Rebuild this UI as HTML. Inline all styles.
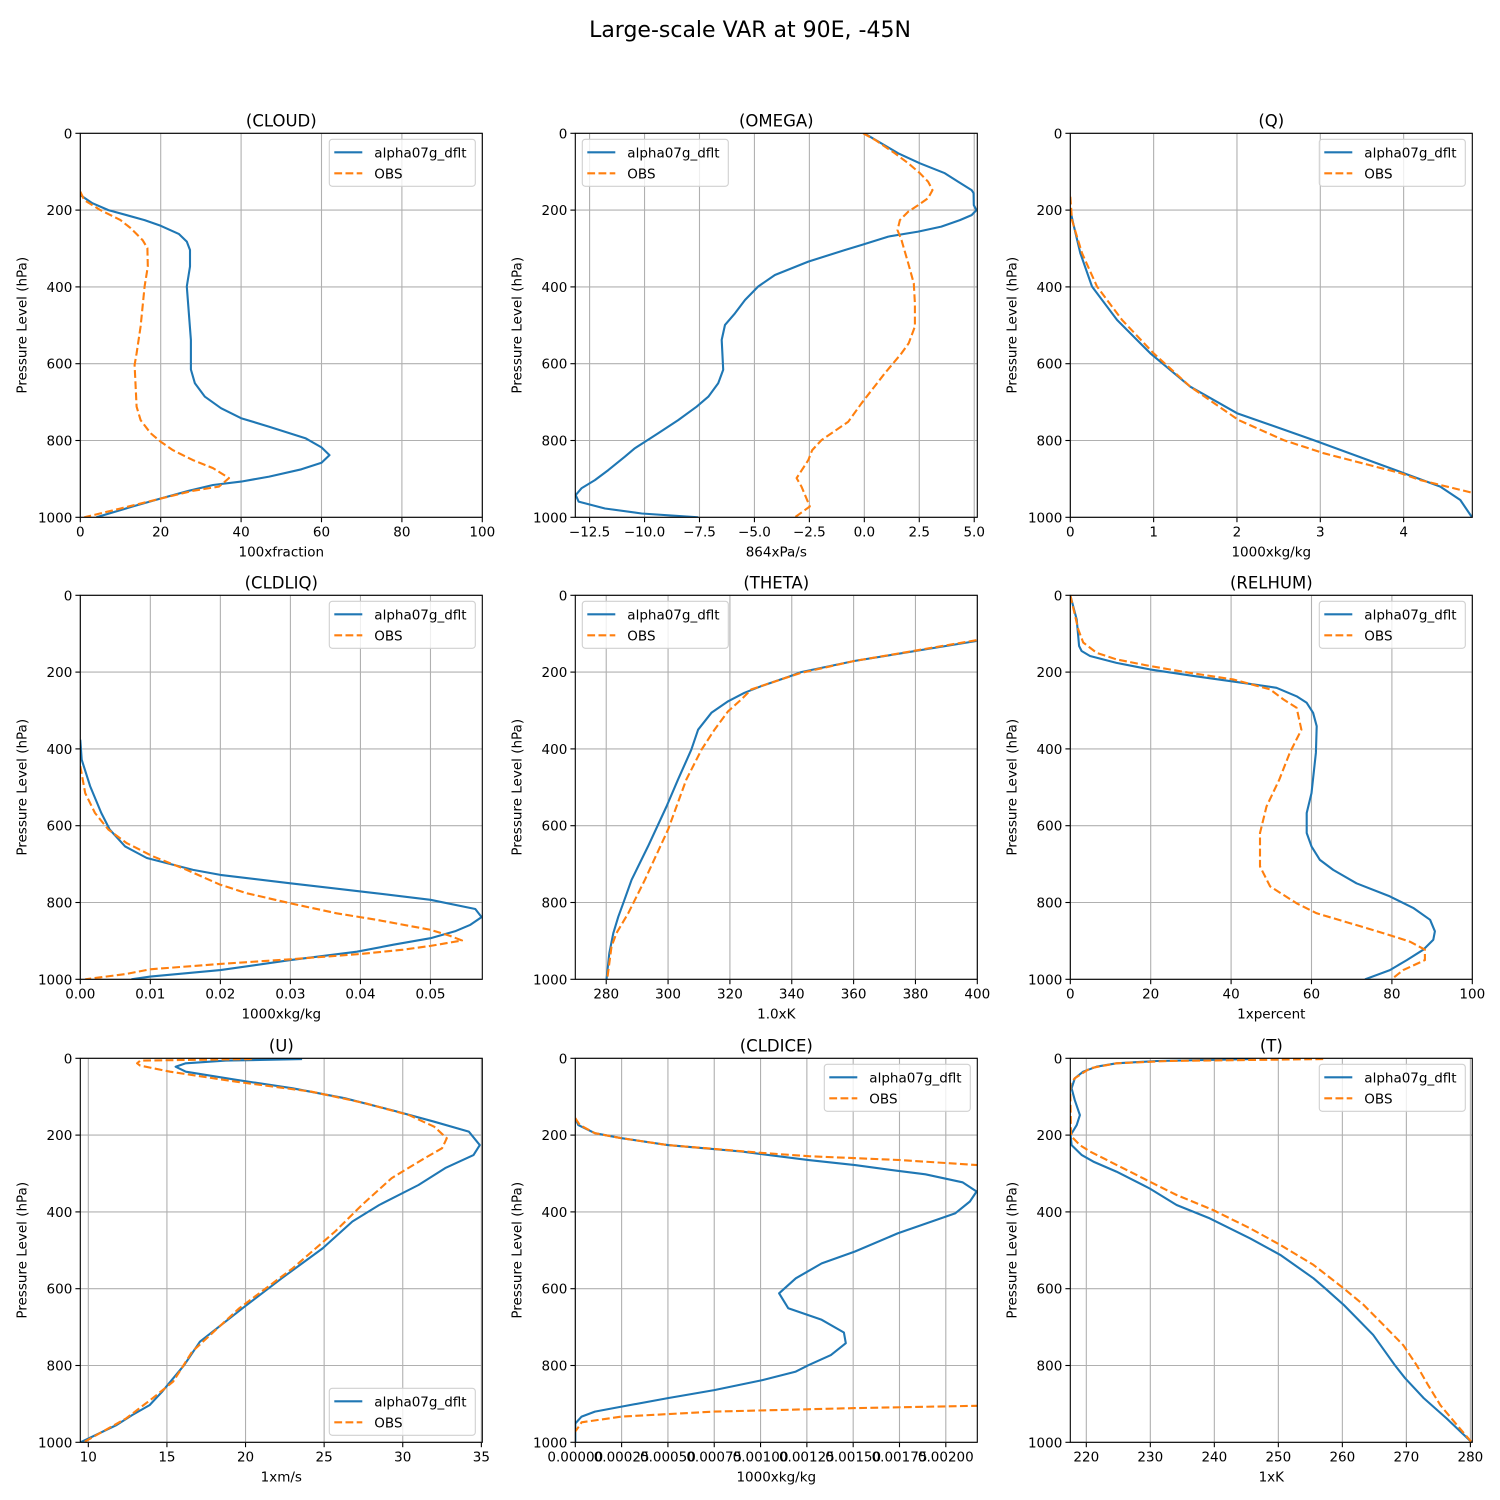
<!DOCTYPE html>
<html><head><meta charset="utf-8"><style>
body{margin:0;background:#fff;}
svg{display:block;font-family:"DejaVu Sans","Liberation Sans",sans-serif;}
</style></head><body>
<svg id="fig" width="1500" height="1500" viewBox="0 0 1500 1500" xmlns="http://www.w3.org/2000/svg">
<rect width="1500" height="1500" fill="#fff"/>
<text x="750" y="37" font-size="22" text-anchor="middle">Large-scale VAR at 90E, -45N</text>
</svg>
<script>
// ---------- DATA ----------
const pCloudM=[152,163,182,200,226,241,262,282,304,347,399,538,615,651,686,716,742,764,794,818,838,858,875,894,907,916,931,951,972,1000];
const vCloudM=[0,0.3,3,7,16,20,24.5,26.5,27.3,27.3,26.5,27.5,27.5,28.5,31,35,40,47,56,60,62,60,55,47,40,33,27,20,13,4];
const pCloudO=[152,174,200,226,247,278,299,347,399,503,573,603,712,747,781,803,825,851,872,885,898,920,931,946,964,977,1000];
const vCloudO=[0,1,5,10,12.5,15.5,16.7,16.8,16,15,14,13.5,14,15,17.5,20,23,28,33,35,37,34.5,28,22,15,10,1];

const pOmegaM=[0,52,78,104,126,148,156,187,200,213,226,243,256,269,291,304,334,369,399,434,469,499,538,616,651,686,712,747,781,803,820,842,877,903,924,942,959,977,990,1000];
const vOmegaM=[0,1.54,2.53,3.66,4.27,4.88,4.97,4.98,5.1,4.88,4.35,3.5,2.45,1.09,-0.13,-0.88,-2.55,-4.07,-4.83,-5.43,-5.89,-6.34,-6.49,-6.42,-6.65,-7.1,-7.63,-8.47,-9.38,-9.98,-10.44,-10.89,-11.65,-12.26,-12.86,-13.13,-13.0,-11.8,-10.13,-7.56];
const pOmegaO=[0,17,52,78,104,126,148,169,187,204,226,252,278,339,391,443,503,547,573,625,703,751,799,825,851,898,920,972,1000];
const vOmegaO=[-0.05,0.48,1.39,2.0,2.53,2.9,3.1,2.9,2.45,2.0,1.62,1.51,1.69,2.0,2.25,2.3,2.3,2.02,1.69,0.93,-0.13,-0.73,-1.95,-2.37,-2.55,-3.08,-2.86,-2.48,-3.16];

const pQM=[200,230,312,399,486,573,660,729,799,885,920,955,1000];
const vQM=[0,0.03,0.12,0.26,0.56,0.96,1.44,2.0,2.92,4.0,4.44,4.68,4.82];
const pQO=[165,226,312,399,486,573,660,747,799,833,885,903,936];
const vQO=[0,0.02,0.14,0.32,0.62,1.0,1.44,2.02,2.56,3.04,3.96,4.2,4.82];

const pLiqM=[376,428,497,567,610,654,684,715,728,750,771,793,817,838,858,875,893,910,928,950,976,993,1000];
const vLiqM=[0,0.0002,0.0014,0.003,0.0042,0.0064,0.0095,0.0161,0.02,0.03,0.04,0.05,0.0564,0.0573,0.0557,0.0535,0.05,0.0447,0.0395,0.03,0.02,0.01,0.0073];
const pLiqO=[445,515,567,610,645,680,715,754,776,802,828,845,871,887,899,913,923,934,948,960,974,986,1000];
const vLiqO=[0,0.0007,0.0021,0.004,0.0066,0.0104,0.0152,0.02,0.0238,0.03,0.0366,0.0423,0.05,0.0528,0.0545,0.05,0.0461,0.04,0.03,0.02,0.01,0.0066,0.0007];

const pThM=[119,171,200,210,237,254,276,306,350,402,480,550,654,741,802,837,880,932,1000];
const vThM=[399.7,360.2,343,339.8,330,324.7,319.4,314,309.7,307.5,303.2,299.5,293.5,288.2,285.5,283.9,282.3,281,280.1];
const pThO=[117,171,202,219,245,271,302,350,402,480,610,741,828,880,915,1000];
const vThO=[399.7,360.2,343,336.6,326.9,323.7,319.4,315,310.8,305.9,300,292.5,287.1,283.3,281.7,280.3];

const pRhM=[0,63,132,145,158,176,193,210,228,241,263,280,306,341,410,515,567,619,654,689,715,750,784,814,845,875,897,923,950,976,1000];
const vRhM=[0,1.6,2.2,2.8,4.9,11.5,19.8,30.6,43,51.3,56.3,58.8,60.4,61.3,61.1,60,58.8,58.8,60,62.1,65.4,71.2,79.5,85.3,89.5,90.7,90.3,87.8,83.7,79.5,73.3];
const pRhO=[0,89,123,150,167,184,202,219,245,271,293,350,410,480,550,619,706,758,802,828,854,880,902,923,950,976,1000];
const vRhO=[0,2,3.2,6.6,11.5,19.8,29.8,40.5,49.7,53,56.3,57.5,54.6,52,48.8,47.2,47.2,49.7,56.3,61.3,69.6,77.9,84.5,88.2,88.2,82.8,79.9];

const pUM=[2,6,13,22,35,56,78,104,135,165,191,226,252,286,330,382,425,495,573,651,738,799,868,903,929,955,1000];
const vUM=[23.6,18.75,16.2,15.55,16.2,19.4,23,26.3,29.3,32,34.2,34.9,34.5,32.7,31,28.5,26.8,24.9,22.3,19.8,17.1,16.1,14.7,13.9,12.8,11.8,9.5];
const pUO=[2,6,13,19,35,61,87,117,148,178,208,234,260,312,382,451,547,651,764,842,885,938,1000];
const vUO=[20.4,13.3,13.1,13.3,15.2,19.4,24.2,27.6,30.4,32,32.8,32.5,31.4,29.3,27.4,25.7,23,19.6,16.6,15.4,14.1,12.4,9.7];

const pIceM=[156,174,195,208,226,243,265,278,293,302,323,347,373,404,456,503,534,573,612,651,681,714,742,773,799,816,838,864,885,907,920,933,951,1000];
const vIceM=[0,0.000016,0.000106,0.00025,0.0005,0.0009,0.00126,0.00151,0.00174,0.00189,0.00209,0.002166,0.00213,0.00205,0.00174,0.00151,0.00133,0.00119,0.0011,0.00115,0.00133,0.00145,0.00146,0.00138,0.00126,0.00119,0.00101,0.00075,0.0005,0.00025,0.000106,0.000034,0,0];
const pIceO=[156,174,195,208,226,236,246,255,265,278,290,895,905,911,920,933,948,955,972];
const vIceO=[0,0.000025,0.000106,0.00025,0.0005,0.00075,0.001,0.00126,0.00176,0.00217,0.0028,0.0028,0.00217,0.00151,0.00075,0.00025,0.000034,0.000025,0];

const pTM=[2,7,13,22,35,52,78,109,148,174,200,226,252,269,295,339,382,417,469,512,573,599,642,686,720,764,799,833,885,938,1000];
const vTM=[245.6,231,224.7,221.6,219.5,218.2,217.7,218.2,219,218.5,217.55,217.7,219.3,221.1,224.7,229.9,234.1,239.3,245.6,250.3,255.5,257.3,260.2,262.8,264.8,266.7,268.2,269.8,272.7,276.3,280.2];
const pTO=[2,7,13,26,52,65,87,139,191,204,226,243,269,321,356,395,443,486,538,599,642,694,747,799,851,903,955,1000];
const vTO=[257,232.6,224.7,220.6,218.2,217.55,217.5,217.55,217.6,217.7,219,220.6,223.7,229.9,234.1,239.8,245.6,250.3,255.5,260.2,263.3,266.4,269.5,271.6,273.4,275.3,277.9,280.2];

const ticksCloud=[0,20,40,60,80,100], labCloud=["0","20","40","60","80","100"];
const ticksOmega=[-12.5,-10,-7.5,-5,-2.5,0,2.5,5], labOmega=["−12.5","−10.0","−7.5","−5.0","−2.5","0.0","2.5","5.0"];
const ticksQ=[0,1,2,3,4], labQ=["0","1","2","3","4"];
const ticksLiq=[0,0.01,0.02,0.03,0.04,0.05], labLiq=["0.00","0.01","0.02","0.03","0.04","0.05"];
const ticksTh=[280,300,320,340,360,380,400], labTh=["280","300","320","340","360","380","400"];
const ticksRh=[0,20,40,60,80,100], labRh=["0","20","40","60","80","100"];
const ticksU=[10,15,20,25,30,35], labU=["10","15","20","25","30","35"];
const ticksIce=[0,0.00025,0.0005,0.00075,0.001,0.00125,0.0015,0.00175,0.002], labIce=["0.00000","0.00025","0.00050","0.00075","0.00100","0.00125","0.00150","0.00175","0.00200"];
const ticksT=[220,230,240,250,260,270,280], labT=["220","230","240","250","260","270","280"];
const yTicks=[0,200,400,600,800,1000];

// ---------- DRAW ----------
const NS="http://www.w3.org/2000/svg";
const svg=document.getElementById('fig');
function mk(tag,attrs,parent){const e=document.createElementNS(NS,tag);for(const k in attrs)e.setAttribute(k,attrs[k]);(parent||svg).appendChild(e);return e;}
const panels=[
 {n:"cloud",t:"(CLOUD)",xl:"100xfraction",x0:0,x1:100,tk:ticksCloud,lb:labCloud,m:[pCloudM,vCloudM],o:[pCloudO,vCloudO],leg:"ur",col:0,row:0},
 {n:"omega",t:"(OMEGA)",xl:"864xPa/s",x0:-13.15,x1:5.14,tk:ticksOmega,lb:labOmega,m:[pOmegaM,vOmegaM],o:[pOmegaO,vOmegaO],leg:"ul",col:1,row:0},
 {n:"q",t:"(Q)",xl:"1000xkg/kg",x0:0,x1:4.824,tk:ticksQ,lb:labQ,m:[pQM,vQM],o:[pQO,vQO],leg:"ur",col:2,row:0},
 {n:"cldliq",t:"(CLDLIQ)",xl:"1000xkg/kg",x0:0,x1:0.0574,tk:ticksLiq,lb:labLiq,m:[pLiqM,vLiqM],o:[pLiqO,vLiqO],leg:"ur",col:0,row:1},
 {n:"theta",t:"(THETA)",xl:"1.0xK",x0:270,x1:400,tk:ticksTh,lb:labTh,m:[pThM,vThM],o:[pThO,vThO],leg:"ul",col:1,row:1},
 {n:"relhum",t:"(RELHUM)",xl:"1xpercent",x0:0,x1:100,tk:ticksRh,lb:labRh,m:[pRhM,vRhM],o:[pRhO,vRhO],leg:"ur",col:2,row:1},
 {n:"u",t:"(U)",xl:"1xm/s",x0:9.49,x1:35.06,tk:ticksU,lb:labU,m:[pUM,vUM],o:[pUO,vUO],leg:"lr",col:0,row:2},
 {n:"cldice",t:"(CLDICE)",xl:"1000xkg/kg",x0:0,x1:0.00217,tk:ticksIce,lb:labIce,m:[pIceM,vIceM],o:[pIceO,vIceO],leg:"ur",col:1,row:2},
 {n:"t",t:"(T)",xl:"1xK",x0:217.5,x1:280.3,tk:ticksT,lb:labT,m:[pTM,vTM],o:[pTO,vTO],leg:"ur",col:2,row:2}
];
const lefts=[80.3,575.3,1070.3], tops=[133.3,595.3,1058.3], W=402, H=384;
panels.forEach((P,i)=>{
  const L=lefts[P.col], T=tops[P.row];
  const g=mk('g',{});
  
  
  const sx=v=>L+(v-P.x0)/(P.x1-P.x0)*W;
  const sy=p=>T+p/1000*H;
  const cp=mk('clipPath',{id:'cp'+i},g);
  mk('rect',{x:L,y:T,width:W,height:H},cp);
  P.tk.forEach((v,j)=>{
    const x=sx(v);
    const gl=mk('line',{x1:x,x2:x,y1:T,y2:T+H,stroke:'#b0b0b0','stroke-width':1.1},g);
    
    
    mk('line',{x1:x,x2:x,y1:T+H,y2:T+H+4.9,stroke:'#000','stroke-width':1.1},g);
    const tl=mk('text',{x:x,y:T+H+19,'font-size':13.5,'text-anchor':'middle'},g);
    tl.textContent=P.lb[j];
    
    
  });
  yTicks.forEach(p=>{
    const y=sy(p);
    const gl=mk('line',{x1:L,x2:L+W,y1:y,y2:y,stroke:'#b0b0b0','stroke-width':1.1},g);
    
    
    mk('line',{x1:L-4.9,x2:L,y1:y,y2:y,stroke:'#000','stroke-width':1.1},g);
    const tl=mk('text',{x:L-8,y:y+5,'font-size':13.5,'text-anchor':'end'},g);
    tl.textContent=String(p);
    
    
  });
  const line=(d,color,dash,name)=>{
    const pts=d[0].map((p,k)=>sx(d[1][k]).toFixed(1)+','+sy(p).toFixed(1)).join(' ');
    const a={points:pts,fill:'none',stroke:color,'stroke-width':2.1,'clip-path':'url(#cp'+i+')','stroke-linejoin':'round'};
    if(dash)a['stroke-dasharray']='7.8,3.4';
    const pl=mk('polyline',a,g);
    
    
  };
  line(P.m,'#1f77b4',false,'series-alpha07g-dflt');
  line(P.o,'#ff7f0e',true,'series-obs');
  mk('rect',{x:L,y:T,width:W,height:H,fill:'none',stroke:'#000','stroke-width':1.1},g);
  const tt=mk('text',{x:L+W/2,y:T-7,'font-size':16.5,'text-anchor':'middle'},g);
  tt.textContent=P.t;
  
  
  const xl=mk('text',{x:L+W/2,y:T+H+39,'font-size':13.5,'text-anchor':'middle'},g);
  xl.textContent=P.xl;
  
  
  const yl=mk('text',{x:0,y:0,'font-size':13.5,'text-anchor':'middle',transform:'translate('+(L-54)+','+(T+H/2)+') rotate(-90)'},g);
  yl.textContent='Pressure Level (hPa)';
  
  
  const lw=146, lh=47;
  const lx = P.leg==='ul' ? L+7 : L+W-7-lw;
  const ly = P.leg==='lr' ? T+H-7-lh : T+6;
  const lg=mk('g',{},g);
  
  
  mk('rect',{x:lx,y:ly,width:lw,height:lh,rx:3,fill:'#fff','fill-opacity':0.8,stroke:'#d0d0d0','stroke-width':1.1},lg);
  [['alpha07g_dflt','#1f77b4',false],['OBS','#ff7f0e',true]].forEach((e,k)=>{
    const yy=ly+13+k*21;
    const a={x1:lx+5,x2:lx+33,y1:yy,y2:yy,stroke:e[1],'stroke-width':2.1};
    if(e[2])a['stroke-dasharray']='7.8,3.4';
    mk('line',a,lg);
    const t=mk('text',{x:lx+45,y:yy+5,'font-size':13.5},lg);
    t.textContent=e[0];
    
    
  });
});
</script>
</body></html>
